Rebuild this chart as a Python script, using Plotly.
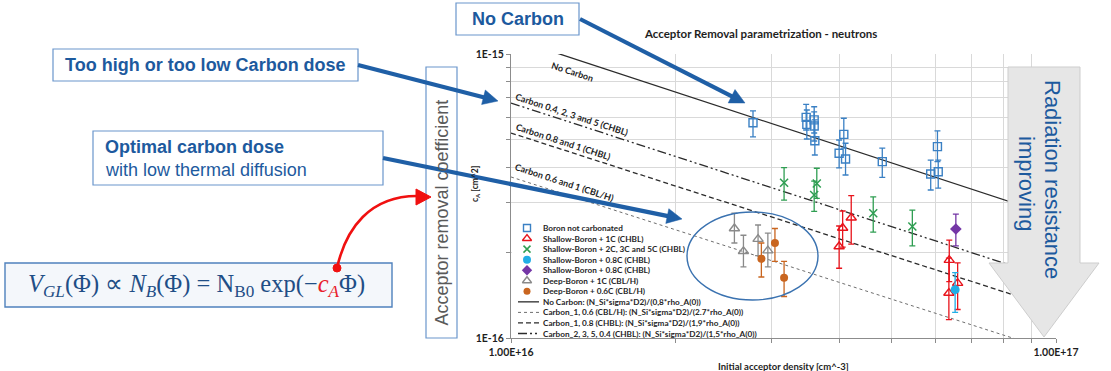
import math
import plotly.graph_objects as go

# ---------------------------------------------------------------------------
# Acceptor removal coefficient c_A [cm^2] vs initial acceptor density [cm^-3]
# (neutron irradiation).  Each series: x, y, upper / lower end of error bar.
# ---------------------------------------------------------------------------
boron_nc_x = [2.78e16, 3.48e16, 3.49e16, 3.60e16, 3.60e16, 3.61e16, 4.08e16,
              4.00e16, 4.11e16, 4.80e16, 5.89e16, 6.06e16, 6.08e16]
boron_nc_y = [5.73e-16, 5.98e-16, 5.65e-16, 5.86e-16, 5.58e-16, 4.95e-16, 5.21e-16,
              4.47e-16, 4.27e-16, 4.18e-16, 3.78e-16, 4.72e-16, 3.85e-16]
boron_nc_hi = [6.31e-16, 6.65e-16, 6.35e-16, 6.52e-16, 6.25e-16, 5.86e-16, 5.94e-16,
               4.98e-16, 4.85e-16, 4.66e-16, 4.23e-16, 5.36e-16, 4.23e-16]
boron_nc_lo = [5.11e-16, 5.40e-16, 5.02e-16, 5.27e-16, 4.94e-16, 4.41e-16, 4.66e-16,
               3.97e-16, 3.75e-16, 3.68e-16, 3.32e-16, 4.18e-16, 3.37e-16]

sb_1c_x = [4.00e16, 4.06e16, 4.21e16, 6.37e16, 6.36e16, 6.60e16]
sb_1c_y = [2.10e-16, 2.44e-16, 2.65e-16, 1.88e-16, 1.44e-16, 1.56e-16]
sb_1c_hi = [2.48e-16, 2.80e-16, 3.17e-16, 2.21e-16, 1.91e-16, 1.84e-16]
sb_1c_lo = [1.76e-16, 2.09e-16, 2.14e-16, 1.58e-16, 1.16e-16, 1.26e-16]

sb_235c_x = [3.17e16, 3.64e16, 3.60e16, 4.62e16, 5.45e16]
sb_235c_y = [3.52e-16, 3.50e-16, 3.19e-16, 2.75e-16, 2.47e-16]
sb_235c_hi = [3.98e-16, 3.96e-16, 3.57e-16, 3.14e-16, 2.82e-16]
sb_235c_lo = [3.06e-16, 3.10e-16, 2.79e-16, 2.36e-16, 2.11e-16]

sb_08c_a_x = [6.53e16]
sb_08c_a_y = [1.48e-16]
sb_08c_a_hi = [1.70e-16]
sb_08c_a_lo = [1.23e-16]

sb_08c_b_x = [6.55e16]
sb_08c_b_y = [2.42e-16]
sb_08c_b_hi = [2.73e-16]
sb_08c_b_lo = [2.11e-16]

db_1c_x = [2.57e16, 2.67e16, 2.84e16, 2.96e16]
db_1c_y = [2.43e-16, 2.02e-16, 2.23e-16, 2.03e-16]
db_1c_hi = [2.75e-16, 2.30e-16, 2.50e-16, 2.34e-16]
db_1c_lo = [2.16e-16, 1.78e-16, 1.95e-16, 1.78e-16]

db_06c_x = [2.88e16, 3.05e16, 3.17e16]
db_06c_y = [1.90e-16, 2.16e-16, 1.63e-16]
db_06c_hi = [2.16e-16, 2.43e-16, 1.86e-16]
db_06c_lo = [1.64e-16, 1.86e-16, 1.40e-16]

# parametrisations c_A = N_Si*sigma*D2 / (k*rho_A(0)), straight on log-log axes
fit_x = [1e16, 1e17]
fit_no_carbon_y = [1.138e-15, 2.67e-16]
fit_c06_y = [3.69e-16, 8.93e-17]
fit_c08_y = [5.27e-16, 1.269e-16]
fit_c04_y = [6.72e-16, 1.60e-16]

series_names = [
    "Boron not carbonated",
    "Shallow-Boron + 1C (CHBL)",
    "Shallow-Boron + 2C, 3C and 5C (CHBL)",
    "Shallow-Boron + 0.8C (CHBL)",
    "Shallow-Boron + 0.8C (CHBL)",
    "Deep-Boron + 1C (CBL/H)",
    "Deep-Boron + 0.6C (CBL/H)",
]
fit_names = [
    "No Carbon: (N_Si*sigma*D2)/(0,8*rho_A(0))",
    "Carbon_1, 0.6 (CBL/H): (N_Si*sigma*D2)/(2.7*rho_A(0))",
    "Carbon_1, 0.8 (CHBL): (N_Si*sigma*D2)/(1,9*rho_A(0))",
    "Carbon_2, 3, 5, 0.4 (CHBL): (N_Si*sigma*D2)/(1,5*rho_A(0))",
]
fit_labels = [
    "No Carbon",
    "Carbon 0.6 and 1 (CBL/H)",
    "Carbon 0.8 and 1 (CHBL)",
    "Carbon 0.4, 2, 3 and 5 (CHBL)",
]
x_major_vals = [1e16, 1e17]
x_major_text = ["1.00E+16", "1.00E+17"]
x_minor_vals = [2e16, 3e16, 4e16, 5e16, 6e16, 7e16, 8e16, 9e16]
y_major_vals = [1e-16, 1e-15]
y_major_text = ["1E-16", "1E-15"]
y_minor_vals = [2e-16, 3e-16, 4e-16, 5e-16, 6e-16, 7e-16, 8e-16, 9e-16]

# ---------------------------------------------------------------------------
W, H = 1111, 371
PL, PR, PT, PB = 511, 1056, 54, 338          # plot area in page pixels
X_DEC = (16, 17)
Y_DEC = (-16, -15)


def px_to_x(px):
    """page pixel column -> acceptor density on the log x axis"""
    return 10 ** (X_DEC[0] + (px - PL) / (PR - PL) * (X_DEC[1] - X_DEC[0]))


def py_to_y(py):
    """page pixel row -> c_A on the log y axis"""
    return 10 ** (Y_DEC[1] - (py - PT) / (PB - PT) * (Y_DEC[1] - Y_DEC[0]))


BLUE = "#3a80c4"
RED = "#e8141c"
GREEN = "#2f9e52"
CYAN = "#21aee6"
PURPLE = "#7436a6"
GRAY = "#8a8a8a"
ORANGE = "#c9651f"
SLIDE_TXT = "#1d5a9e"
SLIDE_BOX = "#6a96cc"
ARROW = "#1f5fa6"
CHART_FONT = "Lato"
SLIDE_FONT = "Liberation Sans"
GRID = "#d9d9d9"
AXIS = "#8c8c8c"

marker_styles = [
    dict(symbol="square-open", size=8, color=BLUE, line=dict(width=1.4, color=BLUE)),
    dict(symbol="triangle-up-open", size=9, color=RED, line=dict(width=1.4, color=RED)),
    dict(symbol="x-thin-open", size=8, color=GREEN, line=dict(width=1.5, color=GREEN)),
    dict(symbol="circle", size=9, color=CYAN, line=dict(width=0)),
    dict(symbol="diamond", size=9, color=PURPLE, line=dict(width=0)),
    dict(symbol="triangle-up-open", size=9, color=GRAY, line=dict(width=1.4, color=GRAY)),
    dict(symbol="circle", size=8, color=ORANGE, line=dict(width=0)),
]
series_data = [
    (boron_nc_x, boron_nc_y, boron_nc_hi, boron_nc_lo),
    (sb_1c_x, sb_1c_y, sb_1c_hi, sb_1c_lo),
    (sb_235c_x, sb_235c_y, sb_235c_hi, sb_235c_lo),
    (sb_08c_a_x, sb_08c_a_y, sb_08c_a_hi, sb_08c_a_lo),
    (sb_08c_b_x, sb_08c_b_y, sb_08c_b_hi, sb_08c_b_lo),
    (db_1c_x, db_1c_y, db_1c_hi, db_1c_lo),
    (db_06c_x, db_06c_y, db_06c_hi, db_06c_lo),
]
fit_data = [fit_no_carbon_y, fit_c06_y, fit_c08_y, fit_c04_y]
fit_styles = [
    dict(color="#2b2b2b", width=1.3, dash="solid"),
    dict(color="#6e6e6e", width=1.0, dash="dot"),
    dict(color="#2b2b2b", width=1.3, dash="5px,3px"),
    dict(color="#2b2b2b", width=1.3, dash="9px,3px,2px,3px,2px,3px"),
]

fig = go.Figure()

# fitted parametrisation lines
for ys, name, st in zip(fit_data, fit_names, fit_styles):
    fig.add_trace(go.Scatter(x=fit_x, y=ys, mode="lines", name=name, line=st,
                             showlegend=False, hoverinfo="skip"))

# measured points with error bars
for (xs, ys, hi, lo), name, mk in zip(series_data, series_names, marker_styles):
    fig.add_trace(go.Scatter(
        x=xs, y=ys, mode="markers", name=name, marker=mk, showlegend=False,
        error_y=dict(type="data", symmetric=False,
                     array=[h - v for h, v in zip(hi, ys)],
                     arrayminus=[v - l for v, l in zip(ys, lo)],
                     color=mk["color"], thickness=1.3, width=3),
    ))

# hand-placed legend (drawn on a page-pixel overlay axis)
ROW0, ROW_STEP = 228, 10.55
for i, mk in enumerate(marker_styles):
    small = dict(mk)
    small["size"] = mk["size"] - 1
    fig.add_trace(go.Scatter(x=[527], y=[ROW0 + i * ROW_STEP], mode="markers",
                             marker=small, xaxis="x2", yaxis="y2",
                             showlegend=False, hoverinfo="skip"))
for j, st in enumerate(fit_styles):
    r = ROW0 + (len(marker_styles) + j) * ROW_STEP
    fig.add_trace(go.Scatter(x=[518, 539], y=[r, r], mode="lines", line=st,
                             xaxis="x2", yaxis="y2", showlegend=False, hoverinfo="skip"))

annotations = []


def text(x, y, s, size, color, family=SLIDE_FONT, **kw):
    d = dict(x=x, y=y, xref="x2", yref="y2", text=s, showarrow=False,
             font=dict(size=size, color=color, family=family))
    d.update(kw)
    annotations.append(d)


for i, name in enumerate(series_names + fit_names):
    text(541, ROW0 + i * ROW_STEP, "<b>%s</b>" % name, 8.2, "#262626",
         CHART_FONT, xanchor="left")

# labels along the fitted lines
label_pos = [(572, 71), (565, 182), (563, 141), (572, 114)]
for (lx, ly), lab in zip(label_pos, fit_labels):
    text(lx, ly, "<b>%s</b>" % lab, 9, "#1e1e1e", CHART_FONT, textangle=18)

# chart title and axis titles
text(760, 33, "<b>Acceptor Removal parametrization - neutrons</b>", 11.5, "#1e1e1e", CHART_FONT)
text(783, 366, "<b>Initial acceptor density [cm^-3]</b>", 9.5, "#1e1e1e", CHART_FONT)
text(475, 184, "<b>c<sub>A</sub> [cm^2]</b>", 8.5, "#1e1e1e", CHART_FONT, textangle=-90)

# ---------------------------------------------------------------------------
shapes = []

# white legend panel: above the gridlines, below the data
shapes.append(dict(type="rect", xref="x", yref="y", layer="between",
                   x0=px_to_x(512), x1=px_to_x(766), y0=py_to_y(337), y1=py_to_y(218),
                   fillcolor="white", line=dict(width=0)))


def rect(x0, y0, x1, y1, line, fill="white", width=1.2):
    shapes.append(dict(type="rect", xref="x2", yref="y2", x0=x0, y0=y0, x1=x1, y1=y1,
                       layer="above", line=dict(color=line, width=width), fillcolor=fill))


def arrow(x0, y0, x1, y1, color, width=4.2, head_len=15, head_half=7.5):
    """straight pointer from (x0, y0) with a filled head ending at (x1, y1)"""
    dx, dy = x1 - x0, y1 - y0
    n = math.hypot(dx, dy)
    ux, uy = dx / n, dy / n
    bx, by = x1 - ux * head_len, y1 - uy * head_len
    shapes.append(dict(type="line", xref="x2", yref="y2", layer="above",
                       x0=x0, y0=y0, x1=bx + ux * 2, y1=by + uy * 2,
                       line=dict(color=color, width=width)))
    shapes.append(dict(type="path", xref="x2", yref="y2", layer="above",
                       path="M%.1f,%.1f L%.1f,%.1f L%.1f,%.1f Z" % (
                           x1, y1, bx - uy * head_half, by + ux * head_half,
                           bx + uy * head_half, by - ux * head_half),
                       fillcolor=color, line=dict(color=color, width=0.5)))


# "radiation resistance" block arrow
shapes.append(dict(type="path", xref="x2", yref="y2", layer="above",
                   path="M1008,67 L1080,67 L1080,263 L1099,263 L1044,337 L989,263 L1008,263 Z",
                   fillcolor="#e6e6e6", line=dict(color="#cdcdcd", width=1)))
text(1053, 179, "Radiation resistance", 22, SLIDE_TXT, textangle=90)
text(1027, 183, "improving", 22, SLIDE_TXT, textangle=90)

# ellipse around the deep-boron points
shapes.append(dict(type="circle", xref="x2", yref="y2", layer="above",
                   x0=687, x1=818, y0=212, y1=300, line=dict(color="#3a72b0", width=1.4)))

# call-out boxes
rect(456, 3, 579, 35, SLIDE_BOX)
text(517.5, 19, "<b>No Carbon</b>", 18, SLIDE_TXT)

rect(53, 49, 358, 81, SLIDE_BOX)
text(205.5, 65, "<b>Too high or too low Carbon dose</b>", 18, SLIDE_TXT)

rect(93, 131, 383, 185, SLIDE_BOX)
text(103, 147, "<b>Optimal carbon dose</b>", 18, SLIDE_TXT, xanchor="left")
text(103, 170, "with low thermal diffusion", 18, SLIDE_TXT, xanchor="left")

rect(426, 67, 457, 338, SLIDE_BOX)
text(441.5, 213, "Acceptor removal coefficient", 18, "#5a5a5a", textangle=-90)

rect(5, 263, 392, 307, "#4f81bd", fill="#f4f7fb", width=1.4)
text(196, 285,
     "<i>V</i><sub><i>GL</i></sub>(Φ) ∝ <i>N</i><sub><i>B</i></sub>(Φ) = "
     "N<sub>B0</sub> exp(−<span style='color:#e8202a'><i>c</i><sub><i>A</i></sub></span>Φ)",
     24.5, "#1f4e86", "Liberation Serif")

# red curved pointer from c_A to the axis caption
shapes.append(dict(type="path", xref="x2", yref="y2", layer="above",
                   path="M337,268 C346,228 370,196 417,196",
                   line=dict(color="#f01010", width=2.6)))
shapes.append(dict(type="path", xref="x2", yref="y2", layer="above",
                   path="M416,189 L431,197 L416,205 Z",
                   fillcolor="#f01010", line=dict(color="#f01010", width=1)))
shapes.append(dict(type="circle", xref="x2", yref="y2", layer="above",
                   x0=333, x1=341, y0=264, y1=272, fillcolor="#f01010",
                   line=dict(color="#f01010", width=1)))

# blue pointer arrows
arrow(580, 19, 745, 103, ARROW)
arrow(358, 65, 498, 101, ARROW)
arrow(383, 158, 682, 219, ARROW)

axis_common = dict(type="log", showgrid=True, gridcolor=GRID, gridwidth=1,
                   showline=True, linecolor=AXIS, linewidth=1,
                   ticks="outside", ticklen=4, tickcolor=AXIS, zeroline=False,
                   automargin=False, tickmode="array",
                   tickfont=dict(family=CHART_FONT, size=10.5, color="#1e1e1e", weight="bold"))
minor_common = dict(tickmode="array", ticks="outside", ticklen=4, tickcolor=AXIS,
                    showgrid=True, gridcolor=GRID, gridwidth=1)

fig.update_layout(
    width=W, height=H, autosize=False,
    margin=dict(l=0, r=0, t=0, b=0, pad=0, autoexpand=False),
    paper_bgcolor="white", plot_bgcolor="rgba(0,0,0,0)",
    showlegend=False,
    xaxis=dict(axis_common, range=list(X_DEC), domain=[PL / W, PR / W], anchor="y",
               tickvals=x_major_vals, ticktext=x_major_text,
               minor=dict(minor_common, tickvals=x_minor_vals)),
    yaxis=dict(axis_common, range=list(Y_DEC), domain=[1 - PB / H, 1 - PT / H], anchor="x",
               tickvals=y_major_vals, ticktext=y_major_text,
               minor=dict(minor_common, tickvals=y_minor_vals)),
    xaxis2=dict(range=[0, W], domain=[0, 1], visible=False, anchor="y2",
                fixedrange=True, automargin=False),
    yaxis2=dict(range=[H, 0], domain=[0, 1], visible=False, anchor="x2",
                fixedrange=True, automargin=False),
    shapes=shapes, annotations=annotations,
)

fig.write_html("out.html")
